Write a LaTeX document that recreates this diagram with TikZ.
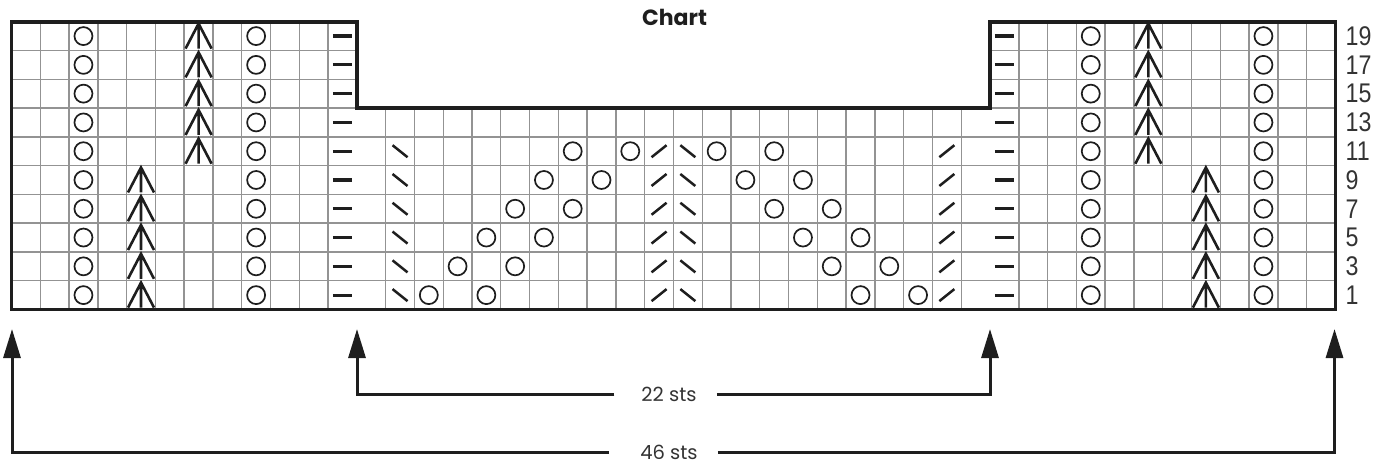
\documentclass[tikz,border=0pt]{standalone}
\usepackage{fontspec}
\setmainfont{Liberation Sans}
\newfontfamily\numfont[FakeStretch=0.86]{Liberation Sans}
\newfontfamily\labfont{Poppins}
\usetikzlibrary{arrows.meta}
\definecolor{gridgray}{HTML}{939393}
\definecolor{txtgray}{HTML}{333333}
\definecolor{inkblack}{HTML}{1E1E1E}
\tikzset{
  gridline/.style={draw=gridgray, line width=1.4pt},
  outline/.style={draw=inkblack, line width=3.8pt, line join=miter},
  symO/.style={draw=inkblack, line width=1.7pt},
  symline/.style={draw=inkblack, line width=2.5pt},
  dimarrow/.style={draw=inkblack, line width=3pt, line join=miter, -{Triangle[length=29pt,width=17pt]}},
  rowlabel/.style={anchor=west, inner sep=0pt, font=\numfont\fontsize{27}{27}\selectfont, text=txtgray},
  stslabel/.style={inner sep=0pt, anchor=base, font=\labfont\fontsize{19.5}{19.5}\selectfont, text=txtgray},
  titlelabel/.style={inner sep=0pt, anchor=base, font=\labfont\bfseries\fontsize{22}{22}\selectfont, text=inkblack},
}
\newcommand\kO[2]{\draw[symO] (#1-0.5,10.5-#2) circle[radius=9pt];}
\newcommand\kDec[2]{\draw[symline, line width=2.6pt, line join=miter] (#1-0.5,10.5-#2) ++(-13pt,-12.5pt) -- ++(13pt,25pt) -- ++(13pt,-25pt) (#1-0.5,10.5-#2) ++(0pt,12.5pt) -- ++(0pt,-25pt);}
\newcommand\kP[2]{\draw[symline, line width=3.2pt] (#1-0.5,10.5-#2) ++(-9.5pt,0pt) -- ++(19pt,0pt);}
\newcommand\kL[2]{\draw[symline] (#1-0.5,10.5-#2) ++(-7.5pt,6pt) -- ++(15pt,-12pt);}
\newcommand\kR[2]{\draw[symline] (#1-0.5,10.5-#2) ++(-7.5pt,-6pt) -- ++(15pt,12pt);}
\begin{document}
\begin{tikzpicture}[x=1pt,y=-1pt]
\useasboundingbox (0,0) rectangle (1383,465);
\begin{scope}[shift={(11.5,21.7)}, x=28.78pt, y=-28.78pt]
  % grid
  \foreach \c in {1,...,11} \draw[gridline] (\c,0) -- (\c,10);
  \foreach \c in {35,...,45} \draw[gridline] (\c,0) -- (\c,10);
  \foreach \c in {13,...,33} \draw[gridline] (\c,3) -- (\c,10);
  \foreach \t in {1,2} {\draw[gridline] (0,\t) -- (12,\t); \draw[gridline] (34,\t) -- (46,\t);}
  \foreach \t in {3,...,9} \draw[gridline] (0,\t) -- (46,\t);
  % side blocks
  \foreach \r in {1,...,10} {\kO{3}{\r} \kO{9}{\r} \kP{12}{\r} \kP{35}{\r} \kO{38}{\r} \kO{44}{\r}}
  \foreach \r in {6,...,10} {\kDec{7}{\r} \kDec{40}{\r}}
  \foreach \r in {1,...,5} {\kDec{5}{\r} \kDec{42}{\r}}
  % centre panel
  \foreach \r in {1,...,6} {
    \kL{14}{\r} \kR{23}{\r} \kL{24}{\r} \kR{33}{\r}
    \pgfmathtruncatemacro\ca{14+\r}
    \pgfmathtruncatemacro\cb{16+\r}
    \pgfmathtruncatemacro\cc{31-\r}
    \pgfmathtruncatemacro\cd{33-\r}
    \kO{\ca}{\r} \kO{\cb}{\r} \kO{\cc}{\r} \kO{\cd}{\r}
  }
  % outline
  \draw[outline] (0,0) -- (12,0) -- (12,3) -- (34,3) -- (34,0) -- (46,0) -- (46,10) -- (0,10) -- cycle;
  % row numbers
  \foreach \r in {1,...,10} {
    \pgfmathtruncatemacro\n{2*\r-1}
    \node[rowlabel] (lab\n) at ([xshift=10pt]46,10.5-\r) {\n};
  }
\end{scope}
\node[titlelabel] (title) at (674.5,26) {Chart};
% dimension arrows
\coordinate (tipA) at (12,329);
\coordinate (tipB) at (357,329);
\coordinate (tipC) at (990,329);
\coordinate (tipD) at (1334.5,329);
\node[stslabel] (s22) at (669,401.5) {22 sts};
\node[stslabel] (s46) at (669,459.5) {46 sts};
\draw[dimarrow] ([xshift=-27pt]s22.west) -| (tipB);
\draw[dimarrow] ([xshift=20pt]s22.east) -| (tipC);
\draw[dimarrow] ([xshift=-31pt]s46.west) -| (tipA);
\draw[dimarrow] ([xshift=20pt]s46.east) -| (tipD);
\end{tikzpicture}
\end{document}
